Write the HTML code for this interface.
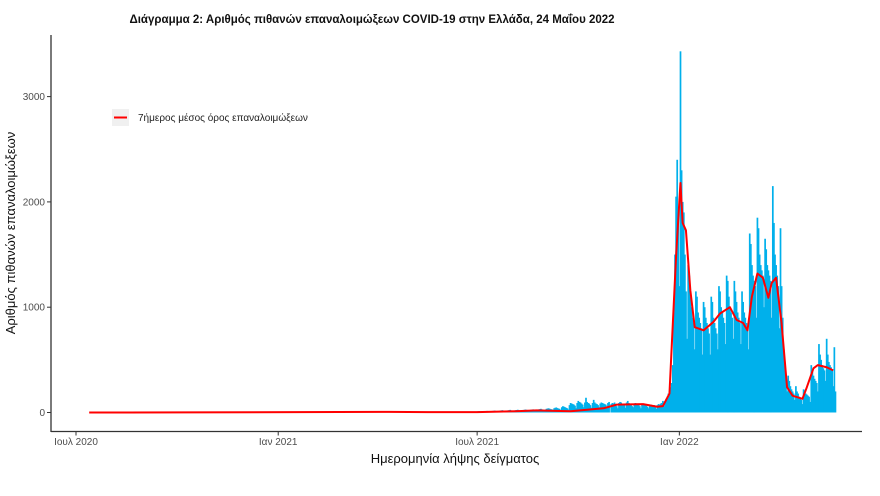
<!DOCTYPE html>
<html><head><meta charset="utf-8">
<style>
html,body{margin:0;padding:0;background:#fff;}
svg{display:block;font-family:"Liberation Sans",sans-serif;}
</style></head>
<body>
<svg id="chart" width="880" height="496" viewBox="0 0 880 496">
<text x="372" y="23" text-anchor="middle" font-size="11.5" font-weight="bold" fill="#111">Διάγραμμα 2: Αριθμός πιθανών επαναλοιμώξεων COVID-19 στην Ελλάδα, 24 Μαΐου 2022</text>
<g id="bars"></g>
<g id="line"></g>
<g id="axes"></g>
<g>
<rect x="112" y="109" width="17" height="17" fill="#f0f0f0"/>
<line x1="114" y1="117.5" x2="127" y2="117.5" stroke="#ff0000" stroke-width="2"/>
<text x="138" y="121" font-size="10" fill="#222">7ήμερος μέσος όρος επαναλοιμώξεων</text>
</g>
<text transform="translate(15,233) rotate(-90)" text-anchor="middle" font-size="13" fill="#111">Αριθμός πιθανών επαναλοιμώξεων</text>
<text x="455" y="463" text-anchor="middle" font-size="13" fill="#111">Ημερομηνία λήψης δείγματος</text>
</svg>
<script>
// day index = days since 2020-07-01
const yTicks = [0, 1000, 2000, 3000];
const xTickDays = [0, 184, 365, 549];
const xTickLabels = ["Ιουλ 2020", "Ιαν 2021", "Ιουλ 2021", "Ιαν 2022"];
const earlyBarStartDay = 365; // 2021-07-01
const earlyBars = [
10,12,14,11,9,8,6, 12,14,15,13,12,10,7, 15,16,18,14,13,12,8, 18,20,22,18,16,14,10,
20,22,25,20,18,16,12, 22,24,26,22,20,18,12, 24,26,28,25,22,20,14, 26,28,30,26,24,22,15,
30,32,35,30,28,25,18, 35,38,40,36,32,30,20, 40,45,48,42,38,35,24, 50,60,55,50,45,40,28,
70,90,85,80,75,65,40, 90,110,100,95,85,75,50, 95,140,100,90,85,70,45, 90,120,95,85,80,70,50,
85,95,90,85,80,75,55, 90,100
];
const lateBarStartDay = 487; // 2021-10-31
const lateBars = [
80,90,85,95,70,60,40, 90,100,95,85,80,70,45, 95,110,90,80,85,60,50, 85,90,80,75,70,60,40,
80,85,75,70,65,55,40, 70,75,65,60,70,50,35, 70,80,75,85,90,110,60, 110,130,150,180,200,240,280,
450,950,1500,2050,2400,1900,1200, 3430,2300,2000,1900,1500,1150,700,
1400,1300,1100,1000,900,850,600, 1150,1100,950,900,850,800,550, 1050,1000,900,850,800,750,550,
1100,1050,900,850,800,750,600, 1200,1150,1000,950,900,850,650, 1300,1250,1100,1000,950,900,700,
1250,1150,1050,950,900,850,650, 1150,1050,950,900,850,800,600, 1700,1600,1400,1300,1250,1200,900,
1850,1750,1500,1400,1350,1300,1000, 1650,1550,1400,1350,1300,1250,900, 2150,1800,1500,1400,1300,1200,800,
1750,1200,900,600,400,300,200, 350,300,250,220,200,180,120, 250,200,180,150,130,120,80,
220,200,180,170,160,150,100, 450,400,350,320,300,280,200, 650,550,500,450,420,400,300,
700,550,480,450,430,400,250, 620,200
];
const maDays = [12,100,200,285,320,365,400,419,450,480,492,516,529,534,540,546,550,552,555,559,563,571,580,586,595,601,607,611,615,620,625,630,633,637,642,647,652,661,665,671,675,683,689];
const maValues = [0,1,3,6,4,3,12,20,12,40,75,80,55,60,180,1480,2180,1800,1730,1160,810,780,860,940,1000,880,850,780,1100,1320,1280,1090,1230,1280,850,240,160,130,240,420,450,430,400];

const X0 = 76, PPD = 1.099, Y0 = 412.5, PPV = 0.1053;
const xs = d => X0 + d * PPD;
const ys = v => Y0 - v * PPV;
const NS = "http://www.w3.org/2000/svg";
const barsG = document.getElementById('bars');
function drawBars(start, arr) {
  arr.forEach((v, i) => {
    const r = document.createElementNS(NS, 'rect');
    const x = xs(start + i) - 0.8;
    r.setAttribute('x', x.toFixed(2));
    r.setAttribute('y', ys(v).toFixed(2));
    r.setAttribute('width', '1.7');
    r.setAttribute('height', Math.max(0, Y0 - ys(v)).toFixed(2));
    r.setAttribute('fill', '#00b0eb');
    
    
    barsG.appendChild(r);
  });
}
drawBars(earlyBarStartDay, earlyBars);
drawBars(lateBarStartDay, lateBars);

const lineG = document.getElementById('line');
const pl = document.createElementNS(NS, 'polyline');
pl.setAttribute('points', maDays.map((d, i) => xs(d).toFixed(2) + ',' + ys(maValues[i]).toFixed(2)).join(' '));
pl.setAttribute('fill', 'none');
pl.setAttribute('stroke', '#ff0000');
pl.setAttribute('stroke-width', '2');
pl.setAttribute('stroke-linejoin', 'round');


lineG.appendChild(pl);

const ax = document.getElementById('axes');
const yl = document.createElementNS(NS, 'line');
yl.setAttribute('x1', 51); yl.setAttribute('x2', 51); yl.setAttribute('y1', 35); yl.setAttribute('y2', 432);
yl.setAttribute('stroke', '#333'); yl.setAttribute('stroke-width', '1.3');


ax.appendChild(yl);
const xl = document.createElementNS(NS, 'line');
xl.setAttribute('x1', 51); xl.setAttribute('x2', 862); xl.setAttribute('y1', 431.5); xl.setAttribute('y2', 431.5);
xl.setAttribute('stroke', '#333'); xl.setAttribute('stroke-width', '1.3');


ax.appendChild(xl);
yTicks.forEach(v => {
  const t = document.createElementNS(NS, 'line');
  t.setAttribute('x1', 47); t.setAttribute('x2', 51); t.setAttribute('y1', ys(v)); t.setAttribute('y2', ys(v));
  t.setAttribute('stroke', '#333');
  
  
  ax.appendChild(t);
  const l = document.createElementNS(NS, 'text');
  l.setAttribute('x', 45); l.setAttribute('y', ys(v) + 3.5);
  l.setAttribute('text-anchor', 'end'); l.setAttribute('font-size', '10'); l.setAttribute('fill', '#4d4d4d');
  
  
  l.textContent = v;
  ax.appendChild(l);
});
xTickDays.forEach((d, i) => {
  const t = document.createElementNS(NS, 'line');
  t.setAttribute('x1', xs(d)); t.setAttribute('x2', xs(d)); t.setAttribute('y1', 431.5); t.setAttribute('y2', 435.5);
  t.setAttribute('stroke', '#333');
  
  
  ax.appendChild(t);
  const l = document.createElementNS(NS, 'text');
  l.setAttribute('x', xs(d)); l.setAttribute('y', 445);
  l.setAttribute('text-anchor', 'middle'); l.setAttribute('font-size', '10'); l.setAttribute('fill', '#4d4d4d');
  
  
  l.textContent = xTickLabels[i];
  ax.appendChild(l);
});
</script>
</body></html>
